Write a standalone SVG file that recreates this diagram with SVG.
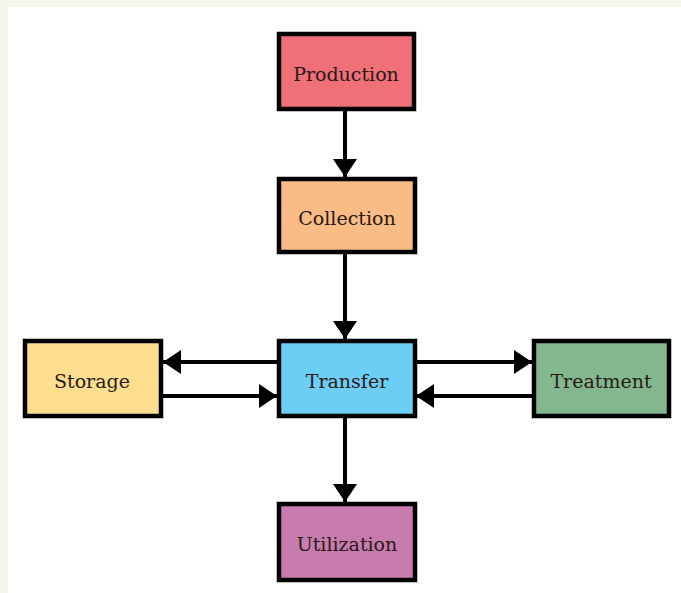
<svg xmlns="http://www.w3.org/2000/svg" width="681" height="593" viewBox="0 0 681 593">
<style>
.box{stroke:#000;stroke-width:4.5}
.lbl{font-family:"DejaVu Serif","Liberation Serif",serif;font-size:19px;fill:#2a1818;text-anchor:middle;dominant-baseline:central}
.con{stroke:#000;stroke-width:4;fill:none;marker-end:url(#ah)}
</style>
<defs>
<marker id="ah" markerUnits="userSpaceOnUse" markerWidth="18" markerHeight="24" refX="18" refY="12" orient="auto">
<path d="M0,0 L18,12 L0,24 Z" fill="#000"/>
</marker>
</defs>
<rect x="0" y="0" width="681" height="593" fill="#F4F5EB"/>
<rect x="8" y="7" width="673" height="586" fill="#FFFFFF"/>
<g id="connectors">
<line class="con" x1="345" y1="110" x2="345" y2="177"/>
<line class="con" x1="345" y1="253" x2="345" y2="339"/>
<line class="con" x1="277" y1="362" x2="163" y2="362"/>
<line class="con" x1="163" y1="396" x2="277" y2="396"/>
<line class="con" x1="416" y1="362" x2="532" y2="362"/>
<line class="con" x1="532" y1="396" x2="416" y2="396"/>
<line class="con" x1="345" y1="418" x2="345" y2="502"/>
</g>
<g id="production"><rect class="box" x="279" y="34" width="135" height="75" fill="#F07078"/><text class="lbl" x="346" y="74">Production</text></g>
<g id="collection"><rect class="box" x="279" y="179" width="136" height="73" fill="#F9BC84"/><text class="lbl" x="347" y="218">Collection</text></g>
<g id="storage"><rect class="box" x="25" y="341" width="136" height="75" fill="#FDDE8E"/><text class="lbl" x="92" y="381">Storage</text></g>
<g id="transfer"><rect class="box" x="279" y="341" width="136" height="75" fill="#6CCDF5"/><text class="lbl" x="347" y="381">Transfer</text></g>
<g id="treatment"><rect class="box" x="534" y="341" width="135" height="75" fill="#83B88F"/><text class="lbl" x="601" y="381">Treatment</text></g>
<g id="utilization"><rect class="box" x="279" y="504" width="136" height="76" fill="#C87BAE"/><text class="lbl" x="347" y="544">Utilization</text></g>
</svg>
